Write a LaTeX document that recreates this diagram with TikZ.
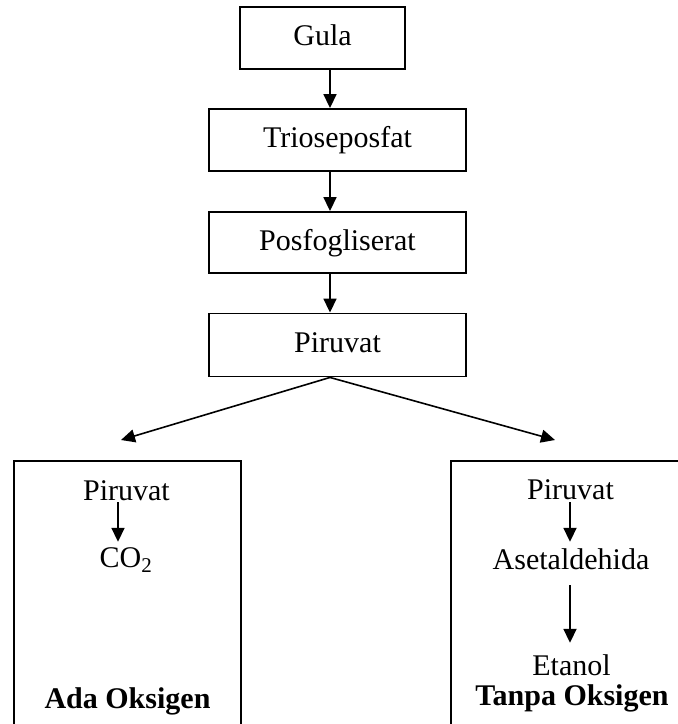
\documentclass[tikz,border=0pt]{standalone}
\usepackage{fontspec}
\setmainfont{Liberation Serif}
\usetikzlibrary{arrows.meta}
\begin{document}
\begin{tikzpicture}[x=1pt,y=-1pt,
  every node/.style={font=\fontsize{30pt}{36pt}\selectfont},
  box/.style={draw,line width=1.9pt,inner sep=0pt,text height=21pt,text depth=6pt,minimum height=62pt},
  bigbox/.style={draw,line width=1.9pt,inner sep=0pt},
  lbl/.style={inner sep=0pt,anchor=base,text height=20pt,text depth=0pt},
  arr/.style={line width=1.8pt,-{Triangle[length=14pt,width=13pt]}},
  darr/.style={line width=1.6pt,-{Triangle[length=14pt,width=13pt]}}]
\clip (0,0) rectangle (678,724);
% main chain
\node[box,minimum width=165pt] (gula) at (322.5,38) {Gula};
\node[box,minimum width=257pt] (trio) at (337.5,140) {Trioseposfat};
\node[box,minimum width=257pt,minimum height=61pt] (posf) at (337.5,242.5) {Posfogliserat};
\node[box,minimum width=257pt,minimum height=63pt] (piru) at (337.5,345) {Piruvat};
\coordinate (ax) at (330,0);
\draw[arr] (gula.south -| ax) -- (trio.north -| ax);
\draw[arr] (trio.south -| ax) -- (posf.north -| ax);
\draw[arr] (posf.south -| ax) -- (piru.north -| ax);
\coordinate (la) at (121,440);
\coordinate (ra) at (555,440);
\draw[darr] (piru.south -| ax) -- (la);
\draw[darr] (piru.south -| ax) -- (ra);
% bottom boxes
\node[bigbox,minimum width=227pt,minimum height=290pt] (lbox) at (127.5,606) {};
\node[bigbox,minimum width=249pt,minimum height=290pt] (rbox) at (575.5,606) {};
% left contents
\coordinate (lax) at (118,0);
\node[lbl] (lp) at (126.5,500) {Piruvat};
\node[lbl] (co) at (126,567) {CO\textsubscript{2}};
\node[lbl,font=\fontsize{30pt}{36pt}\selectfont\bfseries] (ada) at (127.5,708) {Ada Oksigen};
\draw[arr,shorten <=2pt,shorten >=5pt] (lp.south -| lax) -- (co.north -| lax);
% right contents
\coordinate (rax) at (570,0);
\node[lbl] (rp) at (570.5,499) {Piruvat};
\node[lbl] (as) at (571,569) {Asetaldehida};
\node[lbl] (et) at (571.5,675) {Etanol};
\node[lbl,font=\fontsize{30pt}{36pt}\selectfont\bfseries] (tp) at (572,705) {Tanpa Oksigen};
\draw[arr,shorten <=3pt,shorten >=7pt] (rp.south -| rax) -- (as.north -| rax);
\draw[arr,shorten <=16pt,shorten >=12pt] (as.south -| rax) -- (et.north -| rax);
\end{tikzpicture}
\end{document}
